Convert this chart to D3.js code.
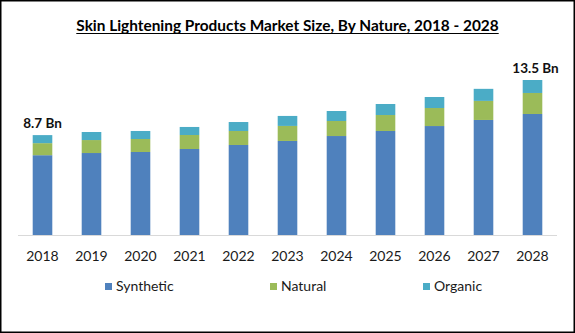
<!DOCTYPE html>
<meta charset="utf-8">
<style>
body { margin: 0; background: #fff; }
svg { display: block; font-family: Lato, "Open Sans", Arial, sans-serif; }
.year { font-size: 14px; fill: #1a1a1a; }
.legend text { font-size: 14px; fill: #1a1a1a; }
.total { font-size: 13.5px; font-weight: bold; fill: #111; }
</style>

<svg width="575" height="333"></svg>

<script src="https://d3js.org/d3.v7.min.js"></script>
<script>

// market size in USD Bn, by nature
var years = ["2018", "2019", "2020", "2021", "2022", "2023", "2024", "2025", "2026", "2027", "2028"];
var synthetic = [6.95, 7.14, 7.23, 7.49, 7.84, 8.19, 8.62, 9.06, 9.49, 10.02, 10.54];
var natural   = [1.05, 1.13, 1.13, 1.22, 1.22, 1.31, 1.31, 1.39, 1.57, 1.66, 1.83];
var organic   = [0.70, 0.70, 0.70, 0.70, 0.78, 0.87, 0.87, 0.96, 0.96, 1.05, 1.13];
var seriesNames = ["Synthetic", "Natural", "Organic"];
var colors = ["#4f81bd", "#9bbb59", "#4bacc6"];
// totals printed over the first and last bar
var totalLabels = {"2018": "8.7 Bn", "2028": "13.5 Bn"};

var svg = d3.select("svg"),
    width = +svg.attr("width"),
    height = +svg.attr("height");

var rows = years.map(function(y, i) {
  return {year: y, Synthetic: synthetic[i], Natural: natural[i], Organic: organic[i]};
});

var stack = d3.stack().keys(seriesNames)(rows);

var x = d3.scaleBand()
    .domain(years)
    .range([18, 557])
    .paddingInner(0.6)
    .paddingOuter(0.3);

var y = d3.scaleLinear()
    .domain([0, 13.5])
    .range([235, 80]);

var color = d3.scaleOrdinal().domain(seriesNames).range(colors);

// frame
svg.append("rect")
    .attr("x", 0.75).attr("y", 0.75)
    .attr("width", width - 1.5).attr("height", height - 1.5)
    .attr("fill", "none")
    .attr("stroke", "#000")
    .attr("stroke-width", 1.5);

// title
var title = svg.append("text")
    .attr("x", width / 2)
    .attr("y", 31)
    .attr("text-anchor", "middle")
    .attr("font-size", 15.4)
    .attr("font-weight", "bold")
    .attr("fill", "#000")
    .text("Skin Lightening Products Market Size, By Nature, 2018 - 2028");

var tw = title.node().getComputedTextLength();
svg.append("line")
    .attr("x1", width / 2 - tw / 2).attr("x2", width / 2 + tw / 2)
    .attr("y1", 33.5).attr("y2", 33.5)
    .attr("stroke", "#000")
    .attr("stroke-width", 1.2);

// stacked bars
svg.append("g")
  .selectAll("g")
  .data(stack)
  .enter().append("g")
    .attr("fill", d => color(d.key))
  .selectAll("rect")
  .data(d => d)
  .enter().append("rect")
    .attr("x", d => x(d.data.year))
    .attr("width", x.bandwidth())
    .attr("y", d => y(d[1]))
    .attr("height", d => y(d[0]) - y(d[1]));

// baseline
svg.append("line")
    .attr("x1", 18).attr("x2", 557)
    .attr("y1", y(0) + 0.5).attr("y2", y(0) + 0.5)
    .attr("stroke", "#d9d9d9");

// year labels
svg.append("g")
  .selectAll("text")
  .data(years)
  .enter().append("text")
    .attr("class", "year")
    .attr("x", d => x(d) + x.bandwidth() / 2)
    .attr("y", 261)
    .attr("text-anchor", "middle")
    .text(d => d);

// totals
var last = stack[stack.length - 1];
svg.append("g")
  .selectAll("text")
  .data(last.filter(d => totalLabels[d.data.year]))
  .enter().append("text")
    .attr("class", "total")
    .attr("x", d => x(d.data.year) + x.bandwidth() / 2 + (d.data.year === "2028" ? 3 : 0))
    .attr("y", d => y(d[1]) - 7.5)
    .attr("text-anchor", "middle")
    .text(d => totalLabels[d.data.year]);

// legend
var legendX = [105, 270, 423];
var legend = svg.append("g")
    .attr("class", "legend")
  .selectAll("g")
  .data(seriesNames)
  .enter().append("g")
    .attr("transform", (d, i) => "translate(" + legendX[i] + ",283)");

legend.append("rect")
    .attr("width", 7).attr("height", 7)
    .attr("fill", d => color(d));

legend.append("text")
    .attr("x", 11)
    .attr("y", 7.5)
    .text(d => d);

</script>
